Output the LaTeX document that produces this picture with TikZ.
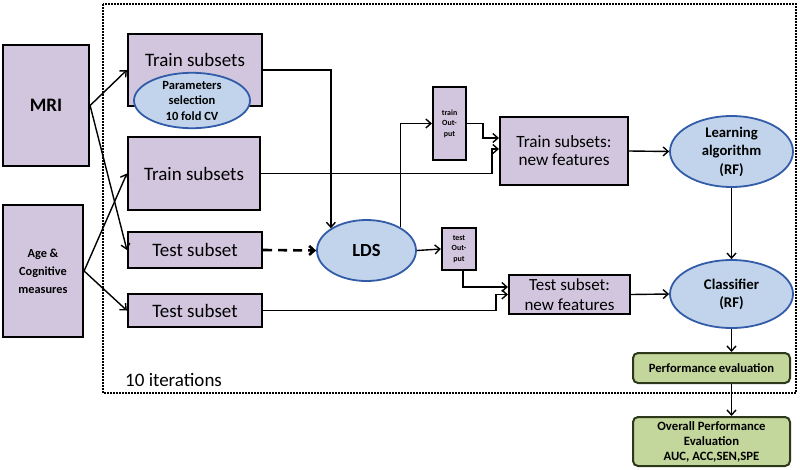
\documentclass[tikz,border=0pt]{standalone}
\usepackage{fontspec}
\setmainfont{Carlito}
\usetikzlibrary{arrows.meta, shapes.geometric}

\definecolor{lilac}{RGB}{210,198,222}
\definecolor{ovalfill}{RGB}{193,212,236}
\definecolor{ovalline}{RGB}{50,92,168}
\definecolor{evalfill}{RGB}{195,214,155}
\definecolor{evalline}{RGB}{45,55,25}

\begin{document}
\begin{tikzpicture}
        [x=1pt, y=-1pt,
         box/.style={
             draw, line width=2.2pt,
             fill=lilac, inner sep=0pt,
             align=center
         },
         oval/.style={
             ellipse, draw=ovalline,
             line width=1.8pt, fill=ovalfill,
             inner sep=0pt, align=center
         },
         evalbox/.style={
             draw=evalline, line width=2pt,
             fill=evalfill, rounded corners=5pt,
             inner sep=0pt, align=center
         },
         arr/.style={
             -{Straight Barb[length=5pt, width=9pt]},
             line width=1.4pt
         },
         big/.style={font=\fontsize{19}{23}\selectfont}
         ]
        \useasboundingbox (0,0) rectangle (800,469);

        % iteration frame
        \draw[line width=2pt, dash pattern=on 1.6pt off 1.4pt] (103,4) rectangle (796,393);
        \node[big, anchor=west, inner sep=0pt] (iter) at (125,380) {10 iterations};

        % inputs
        \node[box, minimum width=86, minimum height=121,
              font=\bfseries\fontsize{19}{23}\selectfont] (mri) at (46,105.5) {MRI};
        \node[box, minimum width=80, minimum height=132,
              font=\bfseries\fontsize{12.3}{18}\selectfont] (age) at (43,271) {Age \&\\Cognitive\\measures};

        % subsets
        \node[box, minimum width=134, minimum height=72,
              label={[big, yshift=10pt]center:Train subsets}] (train1) at (195,70) {};
        \node[oval, minimum width=116, minimum height=47,
              font=\bfseries\fontsize{12.5}{15.5}\selectfont] (param) at (192,100.5) {Parameters\\selection\\10 fold CV};
        \node[box, big, minimum width=132, minimum height=73] (train2) at (194,173.5) {Train subsets};
        \node[box, big, minimum width=134, minimum height=36] (test1) at (195,250) {Test subset};
        \node[box, big, minimum width=134, minimum height=33] (test2) at (195,310.5) {Test subset};

        % LDS and its outputs
        \node[oval, minimum width=99, minimum height=61,
              font=\bfseries\fontsize{18.5}{22}\selectfont] (lds) at (366.5,250.5) {LDS};
        \node[box, minimum width=33, minimum height=73,
              font=\bfseries\fontsize{7.9}{10.5}\selectfont] (trainout) at (449.5,123.5) {train\\Out-\\put};
        \node[box, minimum width=34, minimum height=42,
              font=\bfseries\fontsize{7.9}{10.5}\selectfont] (testout) at (459,249) {test\\Out-\\put};
        \node[box, minimum width=128, minimum height=68,
              font=\fontsize{17.2}{18}\selectfont] (trainnew) at (564,151) {Train subsets:\\new features};
        \node[box, minimum width=121, minimum height=39,
              font=\fontsize{17}{19.5}\selectfont] (testnew) at (569.5,294.5) {Test subset:\\new features};

        % random forest
        \node[oval, minimum width=123, minimum height=71,
              font=\bfseries\fontsize{14.7}{18.5}\selectfont] (learn) at (731.5,151.5) {Learning\\algorithm\\(RF)};
        \node[oval, minimum width=123, minimum height=68,
              font=\bfseries\fontsize{14.8}{18}\selectfont] (clf) at (731.5,294) {Classifier\\(RF)};

        % evaluation
        \node[evalbox, minimum width=157, minimum height=30,
              font=\bfseries\fontsize{12.6}{15}\selectfont] (perf) at (711.5,368) {Performance evaluation};
        \node[evalbox, minimum width=157, minimum height=49,
              font=\bfseries\fontsize{12.7}{15}\selectfont] (overall) at (711.5,441.5) {Overall Performance\\Evaluation\\AUC, ACC,SEN,SPE};

        % connectors
        \draw[arr] (mri.east) -- (train1.west);
        \draw[arr] (mri.east) -- (test1.west);
        \draw[arr] (age.east) -- (train2.west);
        \draw[arr] (age.east) -- (test2.west);
        \draw[arr] (train1.east) -| (lds.148);
        \draw[arr] (train2.east) -- ++(231,0) |- ([yshift=2pt]trainnew.west);
        \draw[arr, line width=2.6pt, dash pattern=on 9pt off 6pt] (test1.east) -- (lds.west);
        \draw[arr] (lds.34) |- (trainout.west);
        \draw[arr] (trainout.east) -- ++(16,0) |- ([yshift=13pt]trainnew.west);
        \draw[arr] (lds.east) -- (testout.west);
        \draw[arr] ([xshift=4pt]testout.south) |- ([yshift=7.5pt]testnew.west);
        \draw[arr] (test2.east) -- ++(233,0) |- (testnew.west);
        \draw[arr] (trainnew.east) -- (learn.west);
        \draw[arr] (testnew.east) -- (clf.west);
        \draw[arr] (learn.south) -- (clf.north);
        \draw[arr] (clf.south) -- (clf.south |- perf.north);
        \draw[arr] (clf.south |- perf.south) -- (clf.south |- overall.north);
    \end{tikzpicture}
\end{document}
